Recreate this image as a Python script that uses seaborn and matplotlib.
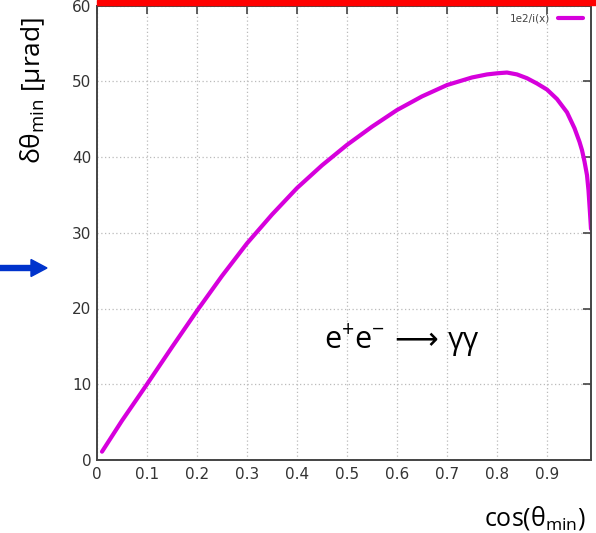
import matplotlib
matplotlib.use("Agg")
import matplotlib.pyplot as plt
import matplotlib.patches as mpatches
from matplotlib.transforms import offset_copy
import seaborn as sns
import pandas as pd

# Angular resolution limit vs. acceptance cut
cos_theta_min = [0.01, 0.05, 0.10, 0.15, 0.20, 0.25, 0.30, 0.35, 0.40, 0.45,
                 0.50, 0.55, 0.60, 0.65, 0.70, 0.75, 0.78, 0.80, 0.82, 0.84,
                 0.86, 0.88, 0.90, 0.92, 0.94, 0.955, 0.965, 0.97, 0.975,
                 0.98, 0.983, 0.986, 0.988]
dtheta_min = [1.1, 5.2, 10.0, 14.9, 19.7, 24.3, 28.6, 32.4, 35.9, 38.9,
              41.6, 44.0, 46.2, 48.0, 49.5, 50.5, 50.9, 51.05, 51.15, 50.9,
              50.4, 49.7, 48.9, 47.65, 45.9, 43.8, 42.0, 40.9, 39.4,
              37.6, 35.6, 32.6, 30.5]
series_label = "1e2/i(x)"
x_ticks = [0, 0.1, 0.2, 0.3, 0.4, 0.5, 0.6, 0.7, 0.8, 0.9]
x_tick_labels = ["0", "0.1", "0.2", "0.3", "0.4", "0.5", "0.6", "0.7", "0.8", "0.9"]
y_ticks = [0, 10, 20, 30, 40, 50, 60]

df = pd.DataFrame({"x": cos_theta_min, "y": dtheta_min, "curve": series_label})

sns.set_style("white")
plt.rcParams["font.family"] = ["DejaVu Sans"]
plt.rcParams["mathtext.fontset"] = "custom"
plt.rcParams["mathtext.rm"] = "Open Sans"
plt.rcParams["mathtext.it"] = "Open Sans"

W, H = 596, 533
fig = plt.figure(figsize=(W / 100, H / 100), dpi=100)
ax = fig.add_axes([97 / W, 1 - 460 / H, (591 - 97) / W, (460 - 5.5) / H])

sns.lineplot(data=df, x="x", y="y", hue="curve", palette=["#d600dc"],
             linewidth=3.0, ax=ax, legend=True, solid_capstyle="round",
             solid_joinstyle="round")

ax.set_xlim(0, 0.988)
ax.set_ylim(0, 60)
ax.set_xticks(x_ticks)
ax.set_xticklabels(x_tick_labels)
ax.set_yticks(y_ticks)
ax.set_xlabel("")
ax.set_ylabel("")

ax.grid(True, color="#bbbbbb", linestyle=(0, (1, 2)), linewidth=0.9)
for s in ax.spines.values():
    s.set_color("#444444")
    s.set_linewidth(1.4)
ax.tick_params(direction="in", length=6, width=1.2, color="#444444",
               top=True, right=True, labelsize=11, labelcolor="#333333", pad=4)
ax.tick_params(axis="x", pad=5)

leg = ax.legend(loc="upper right", frameon=False, fontsize=7.5,
                handlelength=2.4, markerfirst=False, borderaxespad=0.35)
for t in leg.get_texts():
    t.set_color("#444444")

# Process label: e+e- -> gamma gamma, built from three pieces on one baseline
fam = ["Open Sans", "DejaVu Sans"]
pieces = ["e$^{+}$e$^{\\mathrm{-}}$", "⟶", "γγ"]
gaps = [0, 9, 10]
x0, y0 = 0.455, 14.6
fig.canvas.draw()
renderer = fig.canvas.get_renderer()
shift = 0.0
for txt, gap in zip(pieces, gaps):
    shift += gap
    tr = offset_copy(ax.transData, fig=fig, x=shift, y=0, units="dots")
    t = ax.text(x0, y0, txt, transform=tr, fontsize=22, family=fam,
                color="black", va="baseline", ha="left")
    shift += t.get_window_extent(renderer).width

# Axis titles
fig.text(33 / W, 1 - 90 / H, "δθ$_{\\mathrm{min}}$ [μrad]", rotation=90,
         ha="center", va="center", fontsize=19, family=fam, color="black")
fig.text(484 / W, 1 - 518 / H, "cos(θ$_{\\mathrm{min}}$)", ha="left",
         va="center", fontsize=18, family=fam, color="black")

# Header bar and pointer arrow
fig.patches.append(mpatches.Rectangle((97 / W, 1 - 5 / H), 1 - 97 / W, 5 / H,
                                      transform=fig.transFigure,
                                      color="#ff0000", zorder=10))
fig.patches.append(mpatches.FancyArrow(0, 1 - 268 / H, 47 / W, 0,
                                       width=5 / H, head_width=17 / H,
                                       head_length=16 / W,
                                       length_includes_head=True,
                                       transform=fig.transFigure,
                                       color="#0033cc", zorder=10))

fig.savefig("out.png", dpi=100)
